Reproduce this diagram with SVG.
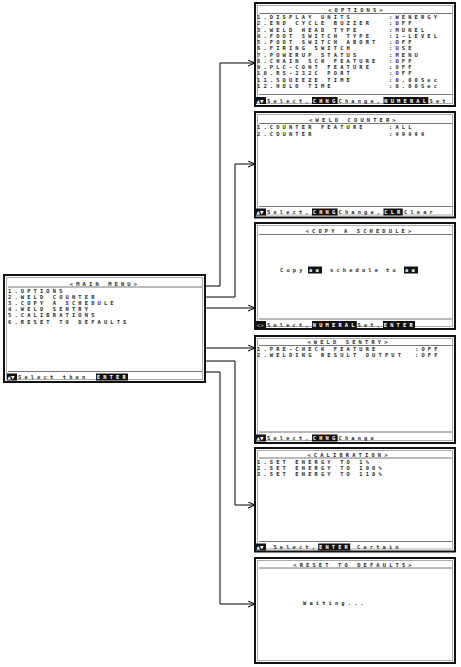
<svg xmlns="http://www.w3.org/2000/svg" width="461" height="667" viewBox="0 0 461 667">
<style>
.bg{fill:#fff}
.box{fill:#fff;stroke:#111;stroke-width:2}
.inner{fill:none;stroke:#aaa;stroke-width:1}
.sep{stroke:#777;stroke-width:1}
.t{font-family:"DejaVu Sans Mono","Liberation Mono",monospace;font-size:5.4px;letter-spacing:3.15px;fill:#2a2a2a;font-weight:bold}
.ti{text-anchor:middle}
.w{fill:#fff}
.inv{fill:#111}
.ic{font-family:"DejaVu Sans",sans-serif;font-size:4.5px;fill:#fff;letter-spacing:0}
.c{stroke:#000;stroke-width:1;fill:none}
</style>
<defs>
<marker id="ah" markerUnits="userSpaceOnUse" markerWidth="9" markerHeight="8" refX="7.5" refY="3.5" orient="auto">
<path d="M0.5,0.5 L7.5,3.5 L0.5,6.5" fill="none" stroke="#000" stroke-width="1"/>
</marker>
</defs>
<rect class="bg" x="0" y="0" width="461" height="667"/>

<g id="connectors">
<path class="c" d="M205,286 H220 V63 H255" marker-end="url(#ah)"/>
<path class="c" d="M205,297 H235 V164 H255" marker-end="url(#ah)"/>
<path class="c" d="M205,308 H255" marker-end="url(#ah)"/>
<path class="c" d="M205,348 H255" marker-end="url(#ah)"/>
<path class="c" d="M205,361 H235 V505 H255" marker-end="url(#ah)"/>
<path class="c" d="M205,372 H220 V604 H255" marker-end="url(#ah)"/>
</g>

<g id="main-menu">
<rect class="box" x="4" y="275" width="201" height="107"/>
<rect class="inner" x="6.5" y="277.5" width="196" height="102"/>
<text class="t ti" x="105" y="285.5">&lt;MAIN MENU&gt;</text>
<line class="sep" x1="8" y1="287" x2="202" y2="287"/>
<text class="t" x="8" y="292.5">1.OPTIONS</text>
<text class="t" x="8" y="298.7">2.WELD COUNTER</text>
<text class="t" x="8" y="304.9">3.COPY A SCHEDULE</text>
<text class="t" x="8" y="311.1">4.WELD SENTRY</text>
<text class="t" x="8" y="317.3">5.CALIBRATIONS</text>
<text class="t" x="8" y="323.5">6.RESET TO DEFAULTS</text>
<line class="sep" x1="8" y1="371.5" x2="202" y2="371.5"/>
<rect class="inv" x="7" y="373.5" width="10" height="7"/>
<text class="ic" x="7.5" y="379">▲▼</text>
<text class="t" x="18" y="379">Select then</text>
<rect class="inv" x="96" y="373.5" width="32" height="7"/>
<text class="t w" x="96.8" y="379">ENTER</text>
</g>

<g id="options">
<rect class="box" x="255" y="3" width="200" height="103"/>
<rect class="inner" x="257.5" y="5.5" width="195" height="98"/>
<text class="t ti" x="357" y="12">&lt;OPTIONS&gt;</text>
<line class="sep" x1="259" y1="13.5" x2="452" y2="13.5"/>
<text class="t" x="257" y="19">1.DISPLAY UNITS</text><text class="t" x="389" y="19">:WENERGY</text>
<text class="t" x="257" y="25.3">2.END CYCLE BUZZER</text><text class="t" x="389" y="25.3">:OFF</text>
<text class="t" x="257" y="31.5">3.WELD HEAD TYPE</text><text class="t" x="389" y="31.5">:MUNEL</text>
<text class="t" x="257" y="37.8">4.FOOT SWITCH TYPE</text><text class="t" x="389" y="37.8">:1-LEVEL</text>
<text class="t" x="257" y="44.1">5.FOOT SWITCH ABORT</text><text class="t" x="389" y="44.1">:OFF</text>
<text class="t" x="257" y="50.4">6.FIRING SWITCH</text><text class="t" x="389" y="50.4">:USE</text>
<text class="t" x="257" y="56.6">7.POWERUP STATUS</text><text class="t" x="389" y="56.6">:MENU</text>
<text class="t" x="257" y="62.9">8.CHAIN SCH FEATURE</text><text class="t" x="389" y="62.9">:OFF</text>
<text class="t" x="257" y="69.2">9.PLC-CONT FEATURE</text><text class="t" x="389" y="69.2">:OFF</text>
<text class="t" x="257" y="75.4">10.RS-232C PORT</text><text class="t" x="389" y="75.4">:OFF</text>
<text class="t" x="257" y="81.7">11.SQUEEZE TIME</text><text class="t" x="389" y="81.7">:0.00Sec</text>
<text class="t" x="257" y="88">12.HOLD TIME</text><text class="t" x="389" y="88">:0.00Sec</text>
<line class="sep" x1="259" y1="94.5" x2="452" y2="94.5"/>
<rect class="inv" x="256" y="97" width="10" height="7"/>
<text class="ic" x="256.5" y="102.5">▲▼</text>
<text class="t" x="267" y="102.5">Select,</text>
<rect class="inv" x="312" y="97" width="25.6" height="7"/>
<text class="t w" x="312.8" y="102.5">CHNG</text>
<text class="t" x="338.5" y="102.5">Change,</text>
<rect class="inv" x="383.5" y="97" width="44.8" height="7"/>
<text class="t w" x="384.3" y="102.5">NUMERAL</text>
<text class="t" x="429.5" y="102.5">Set</text>
</g>

<g id="weld-counter">
<rect class="box" x="255" y="112" width="200" height="105.5"/>
<rect class="inner" x="257.5" y="114.5" width="195" height="100.5"/>
<text class="t ti" x="354" y="122">&lt;WELD COUNTER&gt;</text>
<line class="sep" x1="259" y1="123.5" x2="452" y2="123.5"/>
<text class="t" x="257" y="129.3">1.COUNTER FEATURE</text><text class="t" x="389" y="129.3">:ALL</text>
<text class="t" x="257" y="135.5">2.COUNTER</text><text class="t" x="389" y="135.5">:99999</text>
<line class="sep" x1="259" y1="206.5" x2="452" y2="206.5"/>
<rect class="inv" x="256" y="208.5" width="10" height="7"/>
<text class="ic" x="256.5" y="214">▲▼</text>
<text class="t" x="267" y="214">Select,</text>
<rect class="inv" x="312" y="208.5" width="25.6" height="7"/>
<text class="t w" x="312.8" y="214">CHNG</text>
<text class="t" x="338.5" y="214">Change,</text>
<rect class="inv" x="383.5" y="208.5" width="19.2" height="7"/>
<text class="t w" x="384.3" y="214">CLR</text>
<text class="t" x="404" y="214">Clear</text>
</g>

<g id="copy-a-schedule">
<rect class="box" x="255" y="223" width="200" height="106"/>
<rect class="inner" x="257.5" y="225.5" width="195" height="101"/>
<text class="t ti" x="360" y="233">&lt;COPY A SCHEDULE&gt;</text>
<line class="sep" x1="259" y1="234.5" x2="452" y2="234.5"/>
<text class="t" x="280" y="272">Copy</text>
<rect class="inv" x="308" y="266.5" width="14" height="7"/>
<text class="t w" x="309" y="272">aa</text>
<text class="t" x="330" y="272">schedule</text>
<text class="t" x="386" y="272">to</text>
<rect class="inv" x="404" y="266.5" width="14" height="7"/>
<text class="t w" x="405" y="272">aa</text>
<line class="sep" x1="259" y1="319" x2="452" y2="319"/>
<rect class="inv" x="256" y="321" width="10" height="7"/>
<text class="ic" x="256.5" y="326.5">&lt;&gt;</text>
<text class="t" x="267" y="326.5">Select,</text>
<rect class="inv" x="312" y="321" width="44.8" height="7"/>
<text class="t w" x="312.8" y="326.5">NUMERAL</text>
<text class="t" x="357.5" y="326.5">Set,</text>
<rect class="inv" x="383" y="321" width="32" height="7"/>
<text class="t w" x="383.8" y="326.5">ENTER</text>
</g>

<g id="weld-sentry">
<rect class="box" x="255" y="336" width="200" height="107"/>
<rect class="inner" x="257.5" y="338.5" width="195" height="102"/>
<text class="t ti" x="349" y="344">&lt;WELD SENTRY&gt;</text>
<line class="sep" x1="259" y1="345.5" x2="452" y2="345.5"/>
<text class="t" x="257" y="351">1.PRE-CHECK FEATURE</text><text class="t" x="415" y="351">:OFF</text>
<text class="t" x="257" y="357.2">2.WELDING RESULT OUTPUT</text><text class="t" x="415" y="357.2">:OFF</text>
<line class="sep" x1="259" y1="432" x2="452" y2="432"/>
<rect class="inv" x="256" y="434.5" width="10" height="7"/>
<text class="ic" x="256.5" y="440">▲▼</text>
<text class="t" x="267" y="440">Select,</text>
<rect class="inv" x="312" y="434.5" width="25.6" height="7"/>
<text class="t w" x="312.8" y="440">CHNG</text>
<text class="t" x="338.5" y="440">Change</text>
</g>

<g id="calibration">
<rect class="box" x="255" y="448" width="200" height="103.5"/>
<rect class="inner" x="257.5" y="450.5" width="195" height="98.5"/>
<text class="t ti" x="349" y="456.5">&lt;CALIBRATION&gt;</text>
<line class="sep" x1="259" y1="458" x2="452" y2="458"/>
<text class="t" x="257" y="463.5">1.SET ENERGY TO 1%</text>
<text class="t" x="257" y="469.7">2.SET ENERGY TO 100%</text>
<text class="t" x="257" y="475.9">3.SET ENERGY TO 110%</text>
<line class="sep" x1="259" y1="541.5" x2="452" y2="541.5"/>
<rect class="inv" x="256" y="543.5" width="10" height="7"/>
<text class="ic" x="256.5" y="549">▲▼</text>
<text class="t" x="273.4" y="549">Select,</text>
<rect class="inv" x="318.2" y="543.5" width="32" height="7"/>
<text class="t w" x="319" y="549">ENTER</text>
<text class="t" x="357" y="549">Certain</text>
</g>

<g id="reset-to-defaults">
<rect class="box" x="255" y="558" width="200" height="105"/>
<rect class="inner" x="257.5" y="560.5" width="195" height="100"/>
<text class="t ti" x="354" y="566.5">&lt;RESET TO DEFAULTS&gt;</text>
<line class="sep" x1="259" y1="568" x2="452" y2="568"/>
<text class="t" x="303" y="605">Waiting...</text>
</g>
</svg>
